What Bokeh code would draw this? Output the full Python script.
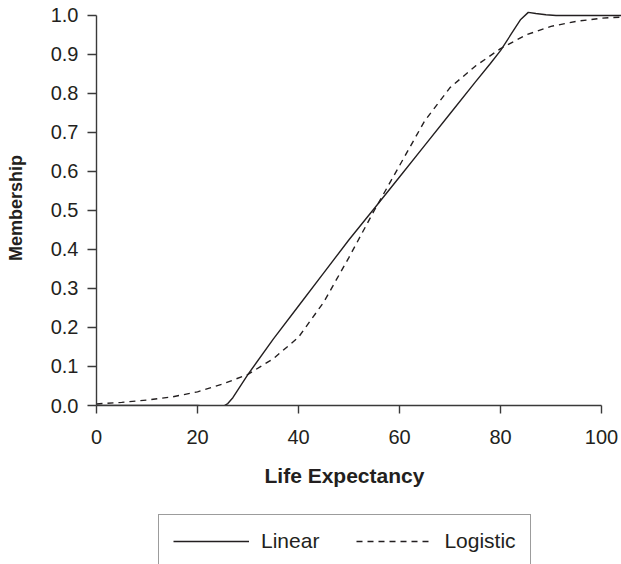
from bokeh.plotting import figure
from bokeh.layouts import column
from bokeh.models import (FixedTicker, PrintfTickFormatter, Range1d, Legend, LegendItem, Title)
from bokeh.embed import file_html
from bokeh.resources import INLINE

# ---- data ----
linear_x = [0, 5, 10, 15, 20, 22, 23.5, 25, 26, 27, 28, 30, 35, 40, 45, 50, 55, 60, 65, 70,
            75, 78, 80, 82, 84, 85.5, 87, 89, 91, 95, 100, 104]
linear_y = [0, 0, 0, 0, 0, -0.002, -0.005, -0.003, 0.005, 0.02, 0.04, 0.08, 0.17, 0.255, 0.34,
            0.425, 0.505, 0.586, 0.667, 0.748, 0.829, 0.877, 0.91, 0.95, 0.99, 1.008, 1.005, 1.002,
            1.0, 1.0, 1.0, 1.0]

logistic_x = [0, 5, 10, 15, 20, 25, 30, 35, 40, 45, 50, 55, 60, 65, 70, 75, 80, 85, 90, 95, 100, 104]
logistic_y = [0.004, 0.008, 0.014, 0.022, 0.035, 0.055, 0.08, 0.12, 0.175, 0.265, 0.38, 0.5,
              0.615, 0.73, 0.815, 0.87, 0.915, 0.95, 0.972, 0.985, 0.993, 0.996]

x_ticks = [0, 20, 40, 60, 80, 100]
y_ticks = [0.0, 0.1, 0.2, 0.3, 0.4, 0.5, 0.6, 0.7, 0.8, 0.9, 1.0]
series_names = ["Linear", "Logistic"]
x_title = "Life Expectancy"
y_title = "Membership"

INK = "#231f20"
AXIS = "#3a3a3a"
FONT = "Liberation Sans"
DASH = "6 5"

p = figure(width=621, height=505, output_backend="svg", toolbar_location=None,
           x_range=Range1d(0, 103.96), y_range=Range1d(0, 1.0128),
           min_border_left=96, min_border_right=0, min_border_top=10, min_border_bottom=100)
p.outline_line_color = None
p.xgrid.visible = False
p.ygrid.visible = False
p.background_fill_color = "white"
p.border_fill_color = "white"

p.line(linear_x, linear_y, line_color=INK, line_width=1.4)
p.line(logistic_x, logistic_y, line_color=INK, line_width=1.4, line_dash=DASH)

for ax in (p.xaxis[0], p.yaxis[0]):
    ax.axis_line_color = AXIS
    ax.axis_line_width = 1.4
    ax.major_tick_line_color = AXIS
    ax.major_tick_line_width = 1.4
    ax.major_tick_in = 0
    ax.minor_tick_line_color = None
    ax.major_label_text_font = FONT
    ax.major_label_text_font_size = "20px"
    ax.major_label_text_color = INK

xa = p.xaxis[0]
xa.ticker = FixedTicker(ticks=x_ticks)
xa.bounds = (0, 100)
xa.major_tick_out = 8
xa.major_label_standoff = 16

ya = p.yaxis[0]
ya.ticker = FixedTicker(ticks=y_ticks)
ya.formatter = PrintfTickFormatter(format="%.1f")
ya.bounds = (0, 1)
ya.major_tick_out = 9
ya.major_label_standoff = 9
ya.axis_label = y_title
ya.axis_label_standoff = 22
ya.axis_label_text_font = FONT
ya.axis_label_text_font_style = "bold"
ya.axis_label_text_font_size = "18px"
ya.axis_label_text_color = INK

xtitle = Title(text=x_title, align="left", offset=168, standoff=30,
               text_font=FONT, text_font_style="bold", text_font_size="21px", text_color=INK)
p.add_layout(xtitle, "below")

# ---- legend strip below the chart (its frame aligns with the chart's frame) ----
q = figure(width=621, height=59, output_backend="svg", toolbar_location=None,
           x_range=Range1d(0, 621), y_range=Range1d(0, 59), min_border=0,
           x_axis_type=None, y_axis_type=None)
q.outline_line_color = None
q.xgrid.visible = False
q.ygrid.visible = False
q.border_fill_color = "white"
# legend-only renderers: their points lie outside the visible strip
g1 = q.line([-50, -40], [-50, -40], line_color=INK, line_width=1.4)
g2 = q.line([-50, -40], [-50, -40], line_color=INK, line_width=1.4, line_dash=DASH)

legend = Legend(items=[LegendItem(label=series_names[0], renderers=[g1]),
                       LegendItem(label=series_names[1], renderers=[g2])],
                location=(62, -3.5), orientation="horizontal",
                padding=14, spacing=37, glyph_width=76, glyph_height=24, label_height=24,
                label_standoff=12, label_text_font=FONT, label_text_font_size="21px",
                label_text_color=INK, border_line_color=AXIS, border_line_width=1.4,
                background_fill_color="white", background_fill_alpha=1.0, margin=0)
q.add_layout(legend, "center")

layout = column(p, q, spacing=0)
open("out.html", "w").write(file_html(layout, INLINE))
